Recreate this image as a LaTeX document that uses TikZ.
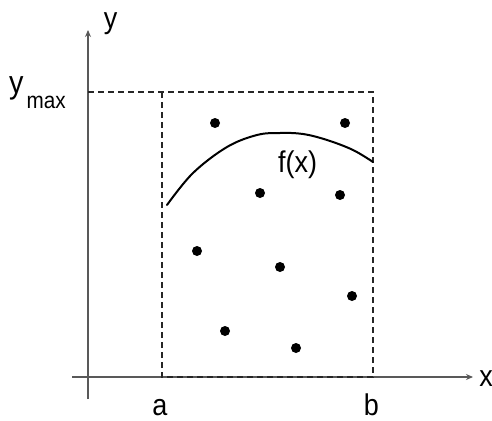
\documentclass[tikz,border=0pt]{standalone}
\usepackage{fontspec}
\setmainfont{Liberation Sans}
\newfontfamily\labfont[FakeStretch=0.9]{Liberation Sans}
\usetikzlibrary{arrows.meta}
\begin{document}
\begin{tikzpicture}[x=1pt,y=-1pt,
  axis/.style={draw=black!65, line width=1.4pt, -{Stealth[length=7pt,width=6pt]}},
  dashbox/.style={draw=black!85, line width=1.2pt, dash pattern=on 6pt off 4pt},
  dot/.style={circle, fill=black, inner sep=0pt, minimum size=10pt},
  lab/.style={font=\labfont\fontsize{30}{30}\selectfont, inner sep=0pt, anchor=base}]
\useasboundingbox (0,0) rectangle (492,420);
% axes
\coordinate (xs) at (72,377);
\coordinate (xe) at (473,377);
\coordinate (ys) at (88,399);
\coordinate (ye) at (88,30);
\draw[axis] (xs) -- (xe);
\draw[axis] (ys) -- (ye);
\node[lab] (xl) at (486,386) {x};
\node[lab] (yl) at (110.5,29) {y};
% box
\coordinate (ymax) at (88,92);
\coordinate (a0) at (162,377);
\coordinate (a1) at (162,92);
\coordinate (b0) at (373,377);
\coordinate (b1) at (373,92);
\draw[dashbox] (ymax) -- (b1) -- (b0) -- (a0) -- (a1);
\node[lab, anchor=base west] (ymaxl) at (9,93) {\fontsize{32}{32}\selectfont y\kern3pt\raisebox{-15pt}{\fontsize{23}{23}\selectfont max}};
\node[lab] (al) at (160,415) {a};
\node[lab] (bl) at (371.5,415) {b};
% curve
\draw[line width=2pt, line cap=round] plot[smooth, tension=0.6] coordinates {(167,205) (193,173) (227,147) (257,135) (280,133) (303,134) (327,140) (353,150) (373,162)};
\node[lab] (fl) at (297.5,172) {f(x)};
% dots
\foreach \n/\px/\py in {d1/215/123, d2/345/123, d3/260/193, d4/340/195, d5/197/251, d6/280/267, d7/352/296, d8/225/331, d9/296/348}
  \node[dot] (\n) at (\px,\py) {};
\end{tikzpicture}
\end{document}
